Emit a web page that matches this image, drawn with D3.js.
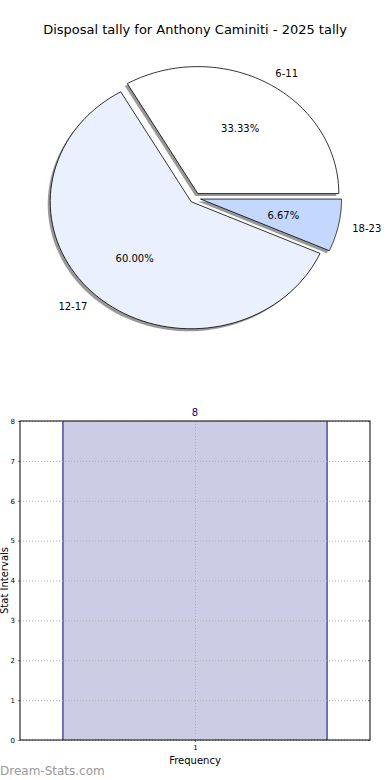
<!DOCTYPE html>
<html>
<head>
<meta charset="utf-8">
<script src="https://cdn.jsdelivr.net/npm/d3@7"></script>
<style>
  body { margin: 0; background: #fff; }
  svg { display: block; font-family: "DejaVu Sans", sans-serif; }
</style>
</head>
<body>
<div id="chart"></div>
<script>
// pie data
var sliceLabels = ['6-11', '12-17', '18-23'];
var sliceValues = [5, 9, 1];
var sliceColors = ['#ffffff', '#eaf0fe', '#c4d8ff'];

// histogram data
var barCats = [1];
var barValues = [8];
var yTicks = [0, 1, 2, 3, 4, 5, 6, 7, 8];

var W = 390, H = 780;
var svg = d3.select('#chart').append('svg').attr('width', W).attr('height', H);

svg.append('text')
  .attr('x', 195).attr('y', 34)
  .attr('text-anchor', 'middle')
  .style('font-size', '13px')
  .text('Disposal tally for Anthony Caminiti - 2025 tally');

// ---- pie (elliptical, like a stretched matplotlib pie) ----
var cx = 195, cy = 198, rx = 141, ry = 127, explode = 0.04;
var total = d3.sum(sliceValues);

// matplotlib: start at 3 o'clock, counterclockwise
var pie = d3.pie().sort(null).value(function(d) { return d; })
  .startAngle(Math.PI / 2).endAngle(Math.PI / 2 - 2 * Math.PI);
var arcs = pie(sliceValues);

function wedgePath(a, ox, oy) {
  // d3 angles: 0 at 12 o'clock, clockwise. Map to ellipse points.
  var n = 80, pts = [[ox, oy]];
  for (var i = 0; i <= n; i++) {
    var t = a.startAngle + (a.endAngle - a.startAngle) * i / n;
    pts.push([ox + rx * Math.sin(t), oy - ry * Math.cos(t)]);
  }
  return d3.line()(pts) + 'Z';
}
function mid(a) { return (a.startAngle + a.endAngle) / 2; }

var pg = svg.append('g');
arcs.forEach(function(a, i) {
  var m = mid(a);
  a.ox = cx + explode * rx * Math.sin(m);
  a.oy = cy - explode * ry * Math.cos(m);
});
// shadows
pg.selectAll('path.shadow').data(arcs).enter().append('path')
  .attr('class', 'shadow')
  .attr('d', function(a) { return wedgePath(a, a.ox - 2.5, a.oy + 2.5); })
  .attr('fill', '#777').attr('opacity', 0.75);
pg.selectAll('path.slice').data(arcs).enter().append('path')
  .attr('class', 'slice')
  .attr('d', function(a) { return wedgePath(a, a.ox, a.oy); })
  .attr('fill', function(a, i) { return sliceColors[i]; })
  .attr('stroke', '#000').attr('stroke-width', 0.8);

pg.selectAll('text.lab').data(arcs).enter().append('text')
  .attr('x', function(a) { return a.ox + 1.1 * rx * Math.sin(mid(a)); })
  .attr('y', function(a) { return a.oy - 1.1 * ry * Math.cos(mid(a)) + 4; })
  .attr('text-anchor', function(a) { return Math.sin(mid(a)) >= 0 ? 'start' : 'end'; })
  .style('font-size', '10px')
  .text(function(a, i) { return sliceLabels[i]; });
pg.selectAll('text.pct').data(arcs).enter().append('text')
  .attr('x', function(a) { return a.ox + 0.6 * rx * Math.sin(mid(a)); })
  .attr('y', function(a) { return a.oy - 0.6 * ry * Math.cos(mid(a)) + 4; })
  .attr('text-anchor', 'middle')
  .style('font-size', '10px')
  .text(function(a) { return (a.data / total * 100).toFixed(2) + '%'; });

// ---- bar chart ----
var m = { left: 20, right: 370, top: 421, bottom: 740 };
var x = d3.scaleLinear().domain([0.47, 1.53]).range([m.left, m.right]);
var y = d3.scaleLinear().domain([0, 8]).range([m.bottom, m.top]);
var barW = 0.8;

var g = svg.append('g');
g.selectAll('rect.bar').data(barValues).enter().append('rect')
  .attr('x', function(d, i) { return x(barCats[i] - barW / 2); })
  .attr('y', function(d) { return y(d); })
  .attr('width', function() { return x(barW) - x(0); })
  .attr('height', function(d) { return y(0) - y(d); })
  .attr('fill', '#ccccE4').attr('stroke', 'none');
g.selectAll('line.barEdgeL').data(barValues).enter().append('line')
  .attr('x1', function(d, i) { return x(barCats[i] - barW / 2); })
  .attr('x2', function(d, i) { return x(barCats[i] - barW / 2); })
  .attr('y1', function(d) { return y(d); }).attr('y2', y(0))
  .attr('stroke', '#000080').attr('stroke-width', 1);
g.selectAll('line.barEdgeR').data(barValues).enter().append('line')
  .attr('x1', function(d, i) { return x(barCats[i] + barW / 2); })
  .attr('x2', function(d, i) { return x(barCats[i] + barW / 2); })
  .attr('y1', function(d) { return y(d); }).attr('y2', y(0))
  .attr('stroke', '#000080').attr('stroke-width', 1);

// grid
g.selectAll('line.hgrid').data(yTicks).enter().append('line')
  .attr('x1', m.left).attr('x2', m.right)
  .attr('y1', function(d) { return y(d) + 0.5; }).attr('y2', function(d) { return y(d) + 0.5; })
  .attr('stroke', '#b0b0b0').attr('stroke-dasharray', '1,2').attr('stroke-width', 1);
g.selectAll('line.vgrid').data(barCats).enter().append('line')
  .attr('x1', function(d) { return Math.round(x(d)) + 0.5; })
  .attr('x2', function(d) { return Math.round(x(d)) + 0.5; })
  .attr('y1', m.top).attr('y2', m.bottom)
  .attr('stroke', '#b0b0b0').attr('stroke-dasharray', '1,2').attr('stroke-width', 1);

// value labels
g.selectAll('text.val').data(barValues).enter().append('text')
  .attr('x', function(d, i) { return x(barCats[i]); })
  .attr('y', function(d) { return y(d) - 5; })
  .attr('text-anchor', 'middle')
  .attr('fill', '#000080')
  .style('font-size', '10px')
  .text(function(d) { return d; });

// axes
var yAxis = d3.axisLeft(y).tickValues(yTicks).tickSize(2).tickPadding(3);
var ya = svg.append('g').attr('transform', 'translate(' + m.left + ',0)').call(yAxis);
ya.select('.domain').remove();
ya.selectAll('text').style('font-size', '7px').style('font-family', '"DejaVu Sans", sans-serif');
ya.selectAll('line').attr('stroke', '#888');

var yAxisR = d3.axisRight(y).tickValues(yTicks).tickSize(-2).tickFormat('');
var yr = svg.append('g').attr('transform', 'translate(' + m.right + ',0)').call(yAxisR);
yr.select('.domain').remove();
yr.selectAll('line').attr('stroke', '#888');

var xAxis = d3.axisBottom(x).tickValues(barCats).tickSize(2).tickPadding(3).tickFormat(d3.format('d'));
var xa = svg.append('g').attr('transform', 'translate(0,' + m.bottom + ')').call(xAxis);
xa.select('.domain').remove();
xa.selectAll('text').style('font-size', '7px').style('font-family', '"DejaVu Sans", sans-serif');
xa.selectAll('line').attr('stroke', '#888');

svg.append('rect')
  .attr('x', m.left).attr('y', m.top)
  .attr('width', m.right - m.left).attr('height', m.bottom - m.top)
  .attr('fill', 'none').attr('stroke', '#000').attr('stroke-width', 1);

svg.append('text')
  .attr('x', (m.left + m.right) / 2).attr('y', 764)
  .attr('text-anchor', 'middle').style('font-size', '10px')
  .text('Frequency');
svg.append('text')
  .attr('transform', 'translate(8,' + ((m.top + m.bottom) / 2) + ') rotate(-90)')
  .attr('text-anchor', 'middle').style('font-size', '10px')
  .text('Stat Intervals');

svg.append('text')
  .attr('x', 0).attr('y', 775)
  .attr('fill', '#999').style('font-size', '12px')
  .text('Dream-Stats.com');
</script>
</body>
</html>
